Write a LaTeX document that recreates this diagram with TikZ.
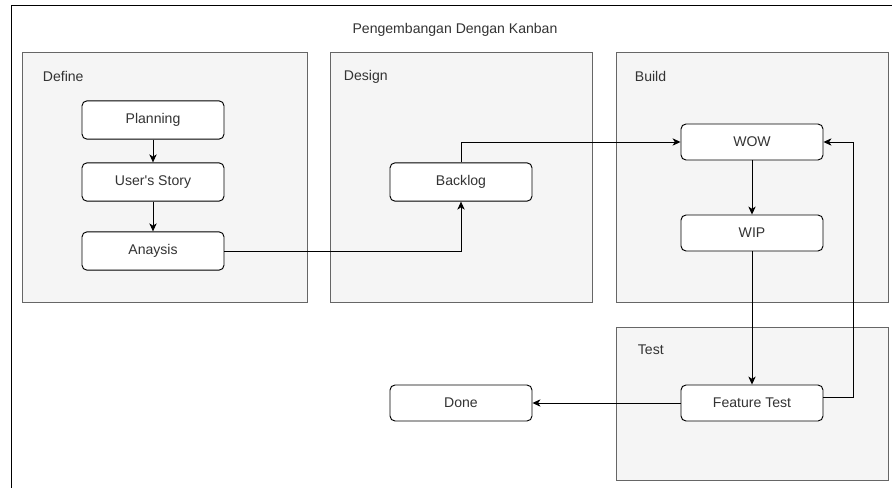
\documentclass[tikz,border=0pt]{standalone}
\usepackage{fontspec}
\setmainfont{Liberation Sans}
\usetikzlibrary{shapes.geometric, arrows.meta, positioning}
\definecolor{boxfill}{HTML}{F5F5F5}
\definecolor{boxline}{HTML}{666666}
\definecolor{textgray}{HTML}{333333}
\tikzstyle{container} = [draw=boxline, fill=boxfill, rectangle, line width=0.6pt, minimum height=7.5cm]
\tikzstyle{component} = [draw, rectangle, rounded corners=0.15cm, fill=white, line width=0.8pt, minimum height=1.15cm, minimum width=4.26cm, text centered, text=textgray, font=\fontsize{12}{14}\selectfont]
\tikzstyle{boxlabel} = [inner sep=0pt, text=textgray, font=\fontsize{12}{14}\selectfont]
\tikzstyle{arrow} = [line width=0.8pt,->,>={Stealth[length=2.4mm, width=2.2mm, inset=0.7mm]}]

\begin{document}
\begin{tikzpicture}[node distance=2cm]
            \useasboundingbox (0,0) rectangle (26.76,-14.64);
            % Outer frame
                  \draw [line width=0.8pt] (0.33,-0.15) rectangle (27.5,-15.5);
                  \node (Title) [boxlabel] at (13.65,-0.9) {Pengembangan Dengan Kanban};

            % Stage containers
                  \node (DefineBox) [container, minimum width=8.55cm] at (4.935,-5.31) {};
                  \node (DesignBox) [container, right of=DefineBox, xshift=6.895cm, minimum width=7.86cm] {};
                  \node (BuildBox) [container, right of=DesignBox, xshift=6.73cm, minimum width=8.16cm] {};
                  \node (TestBox) [container, below of=BuildBox, yshift=-4.795cm, minimum width=8.16cm, minimum height=4.59cm] {};

                  % Stage titles
                  \node (DefineLabel) [boxlabel, right=0.63cm of DefineBox.north west, yshift=-0.75cm] {Define};
                  \node (DesignLabel) [boxlabel, right=0.42cm of DesignBox.north west, yshift=-0.75cm] {Design};
                  \node (BuildLabel) [boxlabel, right=0.57cm of BuildBox.north west, yshift=-0.75cm] {Build};
                  \node (TestLabel) [boxlabel, right=0.66cm of TestBox.north west, yshift=-0.69cm] {Test};

                  % Steps inside the stages
                  \node (Planning) [component] at (4.59,-3.6) {Planning};
                  \node (UserStory) [component, below of=Planning, yshift=0.14cm] {User\textquotesingle s Story};
                  \node (Anaysis) [component, below of=UserStory, yshift=-0.07cm] {Anaysis};
                  \node (Backlog) [component, right of=UserStory, xshift=7.24cm] {Backlog};
                  \node (WOW) [component, above of=BuildBox, yshift=-0.95cm, minimum height=1.08cm] {WOW};
                  \node (WIP) [component, below of=WOW, yshift=-0.73cm, minimum height=1.08cm] {WIP};
                  \node (FeatureTest) [component, below of=WIP, yshift=-3.1cm, minimum height=1.08cm] {Feature Test};
                  \node (Done) [component, left of=FeatureTest, xshift=-6.73cm, minimum height=1.08cm] {Done};  % Arrows
            \draw [arrow] (Planning) -- (UserStory);
            \draw [arrow] (UserStory) -- (Anaysis);
            \draw [arrow] (Anaysis.east) -| (Backlog.south);
            \draw [arrow] (Backlog.north) |- (WOW.west);
            \draw [arrow] (WOW) -- (WIP);
            \draw [arrow] (WIP) -- (FeatureTest);
            \draw [arrow] (FeatureTest) -- (Done);
            \draw [arrow] ([yshift=0.18cm]FeatureTest.east) -- ++(0.9,0) |- (WOW.east);
        \end{tikzpicture}
\end{document}
